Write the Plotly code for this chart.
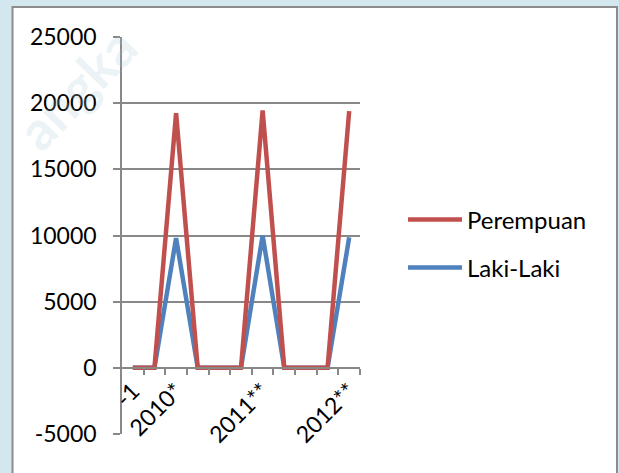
import plotly.graph_objects as go

# ---- data ----
categories = ["-1", "", "2010*", "", "", "", "2011**", "", "", "", "2012**"]
perempuan = [0, 0, 19250, 0, 0, 0, 19450, 0, 0, 0, 19400]
laki_laki = [0, 0, 9800, 0, 0, 0, 10000, 0, 0, 0, 9850]
series_names = ["Perempuan", "Laki-Laki"]
y_ticks = [-5000, 0, 5000, 10000, 15000, 20000, 25000]

W, H = 619, 473
L, R, T, B = 122, 259, 37, 39
PW, PH = W - L - R, H - T - B


def px(xp):
    return (xp - L) / PW


def py(yp):
    return (H - B - yp) / PH


FONT = "Lato"
RED = "#C0504D"
BLUE = "#4F81BD"
GRID = "#888888"
BG = "#d3e8ee"

xs = list(range(len(categories)))
label_idx = [i for i, c in enumerate(categories) if c]

fig = go.Figure()
fig.add_trace(go.Scatter(x=xs, y=laki_laki, mode="lines", name=series_names[1],
                         line=dict(color=BLUE, width=4.5), showlegend=False))
fig.add_trace(go.Scatter(x=xs, y=perempuan, mode="lines", name=series_names[0],
                         line=dict(color=RED, width=4.5), showlegend=False))

y0_frac = (0 - y_ticks[0]) / (y_ticks[-1] - y_ticks[0])

fig.update_layout(
    width=W, height=H,
    margin=dict(l=L, r=R, t=T, b=B, pad=0),
    paper_bgcolor=BG,
    plot_bgcolor="rgba(0,0,0,0)",
    font=dict(family=FONT, size=23, color="#000000"),
    xaxis=dict(
        range=[-0.5, len(categories) - 0.5],
        anchor="free", position=y0_frac,
        showline=True, linecolor=GRID, linewidth=1.5,
        showgrid=False, zeroline=False,
        tickmode="array", tickvals=label_idx,
        ticktext=[categories[i] for i in label_idx],
        ticks="", tickangle=-45,
        minor=dict(tickmode="array",
                   tickvals=[i + 0.5 for i in xs],
                   ticks="outside", ticklen=6, tickwidth=1.5, tickcolor=GRID,
                   showgrid=False),
        tickfont=dict(family=FONT, size=23),
        fixedrange=True,
    ),
    yaxis=dict(
        range=[y_ticks[0], y_ticks[-1]],
        tickmode="array", tickvals=y_ticks,
        ticktext=[str(v) for v in y_ticks],
        showgrid=True, gridcolor=GRID, gridwidth=1.5,
        showline=True, linecolor=GRID, linewidth=1.5,
        zeroline=False,
        ticks="outside", ticklen=7, tickwidth=1.5, tickcolor=GRID,
        ticklabelstandoff=12,
        tickfont=dict(family=FONT, size=23),
        fixedrange=True,
    ),
)

shapes = [
    # chart area (white with grey border)
    dict(type="rect", xref="paper", yref="paper",
         x0=px(12.5), x1=px(617), y0=py(490), y1=py(7),
         fillcolor="#ffffff", line=dict(color="#8c8c8c", width=2), layer="below"),
    # manual legend lines
    dict(type="line", xref="paper", yref="paper",
         x0=px(408), x1=px(462), y0=py(219.5), y1=py(219.5),
         line=dict(color=RED, width=4.5)),
    dict(type="line", xref="paper", yref="paper",
         x0=px(408), x1=px(462), y0=py(267.5), y1=py(267.5),
         line=dict(color=BLUE, width=4.5)),
]

annotations = [
    dict(text=series_names[0], xref="paper", yref="paper",
         x=px(465), y=py(219.5), xanchor="left", yanchor="middle",
         showarrow=False, font=dict(family=FONT, size=24, color="#000")),
    dict(text=series_names[1], xref="paper", yref="paper",
         x=px(465), y=py(267.5), xanchor="left", yanchor="middle",
         showarrow=False, font=dict(family=FONT, size=24, color="#000")),
    # faint watermark
    dict(text="<b>angka</b>", xref="paper", yref="paper",
         x=px(76), y=py(88), xanchor="center", yanchor="middle",
         textangle=-46, showarrow=False,
         font=dict(family=FONT, size=54, color="rgba(170,200,212,0.22)")),
]

fig.update_layout(shapes=shapes, annotations=annotations)
fig.write_html(
    "out.html",
    config={"displayModeBar": False},
    post_script=(
        "document.body.style.margin='0';"
        "document.body.style.padding='0';"
        "document.body.style.overflow='hidden';"
        "document.body.style.background='" + BG + "';"
    ),
)
